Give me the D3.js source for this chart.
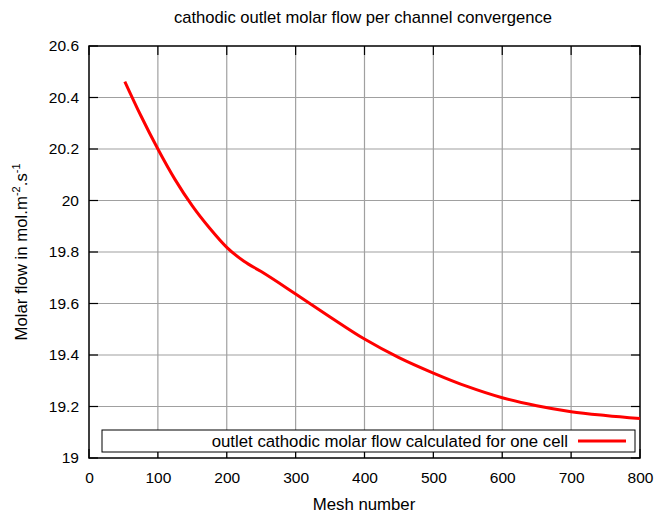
<!DOCTYPE html>
<html><head><meta charset="utf-8">
<script src="https://cdn.jsdelivr.net/npm/d3@7"></script>
<style>body{margin:0;background:#fff}text{font-family:"Liberation Sans",Arial,sans-serif}</style>
</head><body>
<svg id="c" width="668" height="515"></svg>
<script>
const meshX = [52, 75, 100, 125, 150, 175, 200, 225, 250, 300, 350, 400, 450, 500, 550, 600, 650, 700, 750, 800];
const molarFlow = [20.462, 20.331, 20.2, 20.081, 19.979, 19.893, 19.818, 19.764, 19.724, 19.637, 19.548, 19.462, 19.39, 19.33, 19.277, 19.234, 19.203, 19.18, 19.165, 19.153];
const xTicks = [0, 100, 200, 300, 400, 500, 600, 700, 800];
const yTicks = [19, 19.2, 19.4, 19.6, 19.8, 20, 20.2, 20.4, 20.6];
const title = "cathodic outlet molar flow per channel convergence";
const legendLabel = "outlet cathodic molar flow calculated for one cell";

const svg = d3.select("#c");
const L = 89, R = 640, T = 46, B = 458;
const x = d3.scaleLinear().domain([0, 800]).range([L, R]);
const y = d3.scaleLinear().domain([19, 20.6]).range([B, T]);
const FONT = "Liberation Sans, Arial, sans-serif";

// grid
const g = svg.append("g");
xTicks.slice(1, -1).forEach(v => g.append("line").attr("x1", x(v)).attr("x2", x(v)).attr("y1", T).attr("y2", B).attr("stroke", "#a0a0a0").attr("stroke-width", 1.2));
yTicks.slice(1, -1).forEach(v => g.append("line").attr("x1", L).attr("x2", R).attr("y1", y(v)).attr("y2", y(v)).attr("stroke", "#a0a0a0").attr("stroke-width", 1.2));

// inward ticks on all sides
const tl = 9;
xTicks.forEach(v => {
  g.append("line").attr("x1", x(v)).attr("x2", x(v)).attr("y1", B).attr("y2", B - tl).attr("stroke", "#000").attr("stroke-width", 1.2);
  g.append("line").attr("x1", x(v)).attr("x2", x(v)).attr("y1", T).attr("y2", T + tl).attr("stroke", "#000").attr("stroke-width", 1.2);
});
yTicks.forEach(v => {
  g.append("line").attr("x1", L).attr("x2", L + tl).attr("y1", y(v)).attr("y2", y(v)).attr("stroke", "#000").attr("stroke-width", 1.2);
  g.append("line").attr("x1", R).attr("x2", R - tl).attr("y1", y(v)).attr("y2", y(v)).attr("stroke", "#000").attr("stroke-width", 1.2);
});

// axis tick labels via d3 axes (tick marks drawn above)
const xa = svg.append("g").attr("transform", `translate(0,${B})`).call(d3.axisBottom(x).tickValues(xTicks).tickSize(0).tickPadding(14).tickFormat(d3.format("d")));
xa.select(".domain").remove();
xa.selectAll("text").attr("font-size", 15.5).attr("fill", "#000").attr("font-family", FONT);
const ya = svg.append("g").attr("transform", `translate(${L},0)`).call(d3.axisLeft(y).tickValues(yTicks).tickSize(0).tickPadding(10).tickFormat(d => String(+d.toFixed(1))));
ya.select(".domain").remove();
ya.selectAll("text").attr("font-size", 15.5).attr("fill", "#000").attr("font-family", FONT);

// frame
svg.append("rect").attr("x", L).attr("y", T).attr("width", R - L).attr("height", B - T).attr("fill", "none").attr("stroke", "#000").attr("stroke-width", 1.5);

// line
const line = d3.line().x(d => x(d[0])).y(d => y(d[1])).curve(d3.curveMonotoneX);
svg.append("path").datum(meshX.map((v, i) => [v, molarFlow[i]])).attr("d", line).attr("fill", "none").attr("stroke", "#ff0000").attr("stroke-width", 3).attr("stroke-linejoin", "round");

// legend
svg.append("rect").attr("x", 102).attr("y", 430).attr("width", 533).attr("height", 22).attr("fill", "#fff").attr("stroke", "#000").attr("stroke-width", 1);
svg.append("text").attr("x", 568).attr("y", 447).attr("text-anchor", "end").attr("font-size", 16.8).text(legendLabel);
svg.append("line").attr("x1", 578).attr("x2", 626).attr("y1", 441).attr("y2", 441).attr("stroke", "#ff0000").attr("stroke-width", 3);

// title
svg.append("text").attr("x", 363).attr("y", 23).attr("text-anchor", "middle").attr("font-size", 16.6).text(title);
// x label
svg.append("text").attr("x", 364).attr("y", 510).attr("text-anchor", "middle").attr("font-size", 16.8).text("Mesh number");
// y label
const yl = svg.append("text").attr("transform", `translate(27,${(T + B) / 2}) rotate(-90)`).attr("text-anchor", "middle").attr("font-size", 16.8);
yl.append("tspan").text("Molar flow in mol.m");
yl.append("tspan").attr("font-size", 11).attr("dy", -7).text("-2");
yl.append("tspan").attr("dy", 7).text(".s");
yl.append("tspan").attr("font-size", 11).attr("dy", -7).text("-1");
</script>
</body></html>
